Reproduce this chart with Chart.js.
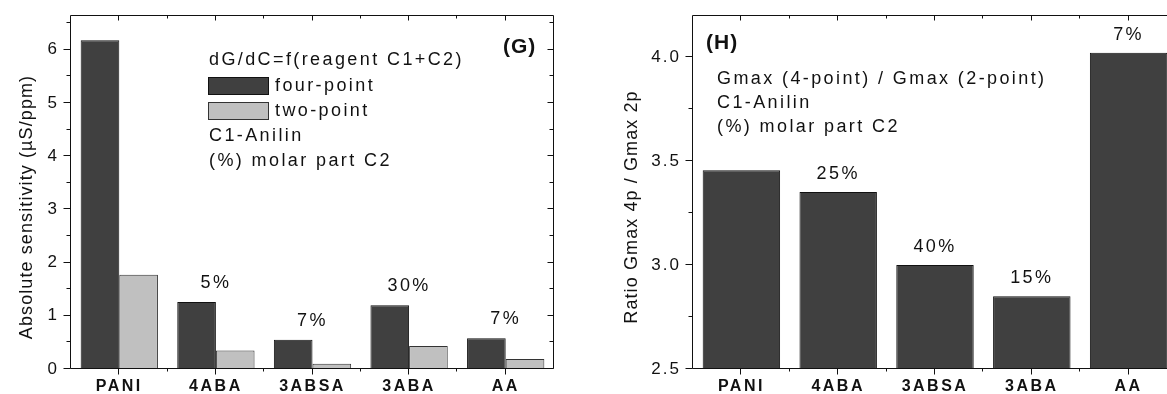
<!DOCTYPE html>
<html>
<head>
<meta charset="utf-8">
<script src="https://cdn.jsdelivr.net/npm/chart.js@4.4.0/dist/chart.umd.min.js"></script>
<style>
  html, body { margin: 0; padding: 0; background: #fff; overflow: hidden; width: 1167px; height: 394px; }
  #left { position: absolute; left: 0; top: 0; }
  #right { position: absolute; left: 580px; top: 0; }
</style>
</head>
<body>
<canvas id="left" width="580" height="394"></canvas>
<canvas id="right" width="600" height="394"></canvas>
<script>
const categories = ['PANI', '4ABA', '3ABSA', '3ABA', 'AA'];
// panel G: absolute sensitivity (uS/ppm)
const fourPoint = [6.18, 1.26, 0.55, 1.20, 0.58];
const twoPoint = [1.77, 0.35, 0.10, 0.43, 0.19];
const molarLeft = ['', '5%', '7%', '30%', '7%'];
// panel H: ratio Gmax 4p / Gmax 2p
const ratio = [3.455, 3.35, 3.0, 2.85, 4.02];
const molarRight = ['', '25%', '40%', '15%', '7%'];
const notesLeft = ['dG/dC=f(reagent C1+C2)', 'C1-Anilin', '(%) molar part C2'];
const notesRight = ['Gmax (4-point) / Gmax (2-point)', 'C1-Anilin', '(%) molar part C2'];

const FONT = '"Liberation Sans", Arial, sans-serif';
const NOTE = '18px ' + FONT;
const INK = '#111';
const DARK = '#404040';
const LIGHT = '#c0c0c0';

// chart.js has no letter spacing option, so wrap each scale's label drawing
const spacing = {
  id: 'spacing',
  beforeDraw(chart) {
    Object.values(chart.scales).forEach(s => {
      if (s._spaced) return;
      const orig = s.drawLabels.bind(s);
      s.drawLabels = (area) => {
        s.ctx.save();
        s.ctx.letterSpacing = s.axis === 'x' ? '2.5px' : '2px';
        orig(area);
        s.ctx.restore();
      };
      s._spaced = true;
    });
  }
};

function text(ctx, str, x, y, font, align, ls) {
  ctx.font = font;
  ctx.letterSpacing = (ls || 0) + 'px';
  ctx.textAlign = align || 'left';
  ctx.textBaseline = 'middle';
  ctx.fillStyle = INK;
  ctx.fillText(str, x, y);
}

// frame, minor/major ticks, titles and notes
function decor(cfg) {
  return {
    id: 'decor',
    afterDraw(chart) {
      const ctx = chart.ctx;
      const a = chart.chartArea;
      const xs = chart.scales.x, ys = chart.scales.y;
      ctx.save();
      ctx.strokeStyle = INK;
      ctx.lineWidth = 1;
      const L = Math.round(a.left) - 0.5, R = Math.round(a.right) - 0.5;
      const T = Math.round(a.top) + 0.5, B = Math.round(a.bottom) - 0.5;
      ctx.beginPath();
      ctx.moveTo(L, T); ctx.lineTo(R, T); ctx.lineTo(R, B); ctx.lineTo(L, B); ctx.closePath();
      // y ticks
      for (let v = ys.min; v <= ys.max + 1e-9; v += cfg.minor) {
        const major = Math.abs(v / cfg.major - Math.round(v / cfg.major)) < 1e-6;
        const y = Math.round(ys.getPixelForValue(v)) - 0.5;
        ctx.moveTo(L, y); ctx.lineTo(L - (major ? 7 : 4), y);
        ctx.moveTo(R, y); ctx.lineTo(R - (major ? 6 : 4), y);
      }
      // x ticks at category centres and boundaries
      const half = (xs.getPixelForValue(1) - xs.getPixelForValue(0)) / 2;
      categories.forEach((c, i) => {
        const x = Math.round(xs.getPixelForValue(i)) - 0.5;
        ctx.moveTo(x, B); ctx.lineTo(x, B + 6);
        ctx.moveTo(x, T); ctx.lineTo(x, T + 5);
        if (i > 0) {
          const xb = Math.round(xs.getPixelForValue(i) - half) - 0.5;
          ctx.moveTo(xb, B); ctx.lineTo(xb, B + 3);
          ctx.moveTo(xb, T); ctx.lineTo(xb, T + 3);
        }
      });
      ctx.stroke();

      // molar part labels above the first dataset's bars
      const meta = chart.getDatasetMeta(0);
      cfg.molar.forEach((m, i) => {
        if (!m) return;
        text(ctx, m, xs.getPixelForValue(i), meta.data[i].y - cfg.molarGap, NOTE, 'center', 2.4);
      });

      // rotated y title
      ctx.save();
      ctx.translate(cfg.titleX, cfg.titleY);
      ctx.rotate(-Math.PI / 2);
      text(ctx, cfg.title, 0, 0, '18px ' + FONT, 'center', 1.1);
      ctx.restore();

      // panel letter
      text(ctx, cfg.panel, cfg.panelX, cfg.panelY, 'bold 21px ' + FONT, 'left', 1);

      // notes and legend
      cfg.drawNotes(ctx, chart);
      ctx.restore();
    }
  };
}

const scaleBase = {
  grid: { display: false, drawTicks: true, tickLength: 7 },
  border: { display: false },
};

new Chart(document.getElementById('left'), {
  type: 'bar',
  data: {
    labels: categories,
    datasets: [
      { label: 'four-point', data: fourPoint, backgroundColor: DARK, borderColor: INK, borderWidth: 1 },
      { label: 'two-point', data: twoPoint, backgroundColor: LIGHT, borderColor: '#333', borderWidth: 1 }
    ]
  },
  options: {
    responsive: false,
    animation: false,
    layout: { padding: { left: 0, right: 26, top: 14, bottom: 0 } },
    datasets: { bar: { categoryPercentage: 0.8, barPercentage: 1.0 } },
    plugins: { legend: { display: false }, tooltip: { enabled: false } },
    scales: {
      x: {
        ...scaleBase,
        grid: { display: false, drawTicks: true, tickLength: 6 },
        ticks: { color: INK, padding: 2, font: { family: FONT, size: 16, weight: 'bold' } },
        afterFit: s => { s.height = 25; }
      },
      y: {
        ...scaleBase,
        min: 0, max: 6.65,
        ticks: { stepSize: 1, includeBounds: false, padding: 5, color: INK, font: { family: FONT, size: 17 } },
        afterFit: s => { s.width = 71; }
      }
    }
  },
  plugins: [spacing, decor({
    minor: 0.5, major: 1, molar: molarLeft, molarGap: 19,
    title: 'Absolute sensitivity (\u00b5S/ppm)', titleX: 27, titleY: 207,
    panel: '(G)', panelX: 503, panelY: 47,
    drawNotes(ctx, chart) {
      const x0 = 209;
      text(ctx, notesLeft[0], x0, 60, NOTE, 'left', 2.4);
      chart.data.datasets.forEach((d, i) => {
        const y = 86 + i * 25;
        ctx.fillStyle = d.backgroundColor;
        ctx.fillRect(208, y - 9, 61, 18);
        ctx.strokeStyle = d.borderColor;
        ctx.strokeRect(208.5, y - 8.5, 60, 17);
        text(ctx, d.label, 275, y, NOTE, 'left', 2.4);
      });
      text(ctx, notesLeft[1], x0, 136, NOTE, 'left', 2.4);
      text(ctx, notesLeft[2], x0, 161, NOTE, 'left', 2.4);
    }
  })]
});

new Chart(document.getElementById('right'), {
  type: 'bar',
  data: {
    labels: categories,
    datasets: [
      { label: 'ratio', data: ratio, backgroundColor: DARK, borderColor: INK, borderWidth: 1 }
    ]
  },
  options: {
    responsive: false,
    animation: false,
    layout: { padding: { left: 0, right: 3, top: 14, bottom: 0 } },
    datasets: { bar: { categoryPercentage: 0.8, barPercentage: 1.0 } },
    plugins: { legend: { display: false }, tooltip: { enabled: false } },
    scales: {
      x: {
        ...scaleBase,
        grid: { display: false, drawTicks: true, tickLength: 6 },
        ticks: { color: INK, padding: 2, font: { family: FONT, size: 16, weight: 'bold' } },
        afterFit: s => { s.height = 25; }
      },
      y: {
        ...scaleBase,
        min: 2.5, max: 4.2,
        ticks: { stepSize: 0.5, includeBounds: false, padding: 5, color: INK, font: { family: FONT, size: 17 },
          callback: v => v.toFixed(1) },
        afterFit: s => { s.width = 113; }
      }
    }
  },
  plugins: [spacing, decor({
    minor: 0.25, major: 0.5, molar: molarRight, molarGap: 18,
    title: 'Ratio Gmax 4p / Gmax 2p', titleX: 52, titleY: 207,
    panel: '(H)', panelX: 126, panelY: 43,
    drawNotes(ctx) {
      notesRight.forEach((n, i) => {
        text(ctx, n, 137, 79 + i * 24, NOTE, 'left', 2.4);
      });
    }
  })]
});
</script>
</body>
</html>
